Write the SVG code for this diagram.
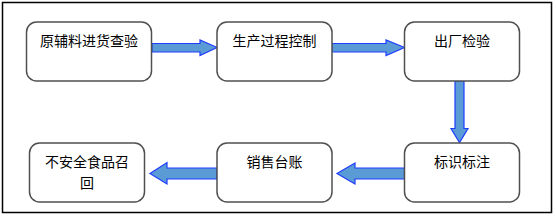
<svg xmlns="http://www.w3.org/2000/svg" width="556" height="218" viewBox="0 0 556 218">
<style>
.box{fill:#fff;stroke:#505050;stroke-width:1.5}
.lbl{font-family:"Noto Sans CJK SC","Noto Sans",sans-serif;font-size:14px;fill:#000;text-anchor:middle}
.arr{fill:#5B9BD5;stroke:#1F3DFF;stroke-width:1.2;stroke-linejoin:miter}
</style>
<rect x="2.5" y="2.5" width="549" height="210" fill="#fff" stroke="#000" stroke-width="1.5"/>
<g id="connectors">
<polygon class="arr" points="152,43.5 200,43.5 200,40 217,47.5 200,55.5 200,52 152,52"/>
<polygon class="arr" points="332,43.5 386,43.5 386,40 404.5,47.5 386,55.5 386,52 332,52"/>
<polygon class="arr" points="455,81 464,81 464,128.5 468,128.5 459.5,142.5 451,128.5 455,128.5"/>
<polygon class="arr" points="404.5,168 355,168 355,163 337,173.5 355,184 355,179 404.5,179"/>
<polygon class="arr" points="217,168 167,168 167,162.5 150,173.5 167,184 167,179 217,179"/>
</g>
<g id="n1"><rect class="box" x="26.5" y="22" width="125" height="59" rx="10"/><text class="lbl" x="89" y="45.5">原辅料进货查验</text></g>
<g id="n2"><rect class="box" x="217" y="22" width="115" height="59" rx="10"/><text class="lbl" x="274.5" y="45.5">生产过程控制</text></g>
<g id="n3"><rect class="box" x="404.5" y="22" width="115" height="59" rx="10"/><text class="lbl" x="462" y="45.5">出厂检验</text></g>
<g id="n4"><rect class="box" x="404.5" y="143" width="115" height="59" rx="10"/><text class="lbl" x="462" y="167">标识标注</text></g>
<g id="n5"><rect class="box" x="217" y="143" width="115" height="59" rx="10"/><text class="lbl" x="274.5" y="167">销售台账</text></g>
<g id="n6"><rect class="box" x="29.5" y="143" width="115" height="59" rx="10"/><text class="lbl" x="87" y="166.5">不安全食品召</text><text class="lbl" x="87" y="188">回</text></g>
</svg>
